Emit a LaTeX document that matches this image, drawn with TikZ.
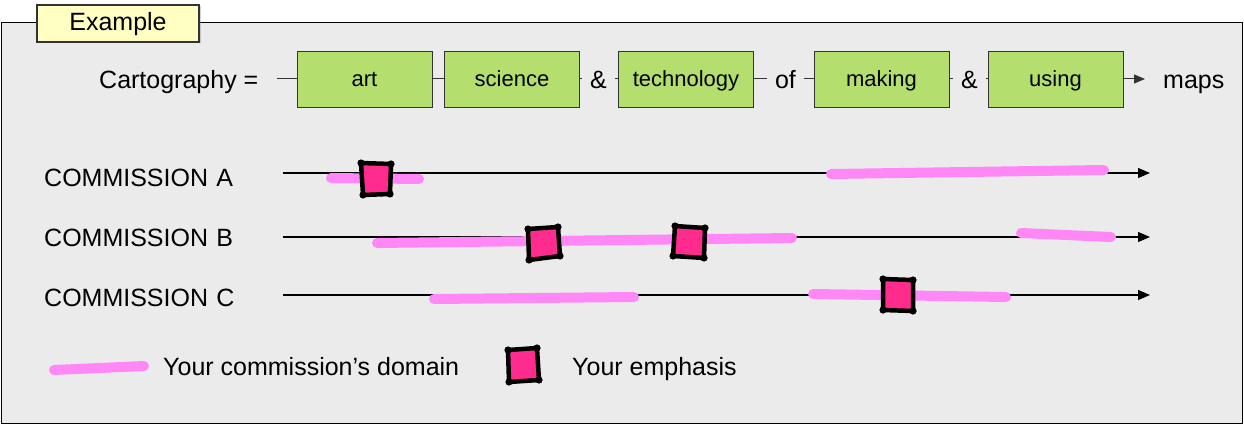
\documentclass[tikz,border=0pt]{standalone}
\usepackage{fontspec}
\setmainfont{Liberation Sans}
\usetikzlibrary{arrows.meta,shadows}

\definecolor{panelgray}{HTML}{EBEBEB}
\definecolor{tabyellow}{HTML}{FFFFC4}
\definecolor{boxgreen}{HTML}{B4DE6E}
\definecolor{reachpink}{HTML}{FF88F6}
\definecolor{emphpink}{HTML}{FF2C8E}

\tikzset{
  big/.style={font=\fontsize{25}{30}\selectfont, inner sep=0pt},
  part/.style={draw=black!80, line width=0.8pt, fill=boxgreen, minimum width=135pt,
    minimum height=56pt, inner sep=0pt, font=\fontsize{22}{26}\selectfont,
    text height=20pt, text depth=4pt},
  joint/.style={big, inner xsep=7.5pt},
  link/.style={line width=1pt, black!80},
  timeline/.style={line width=1.2pt, -{Triangle[length=12pt,width=10pt]}},
  reach/.style={reachpink, line width=10pt, line cap=round},
  sqline/.style={line width=4.5pt, line join=round},
  comm/.style={big, text width=239pt, align=left, anchor=base west},
}

% one hand drawn emphasis square: fill, frame, corner dots
\newcommand{\emphsq}[4]{%
  \fill[emphpink] #1 -- #2 -- #3 -- #4 -- cycle;
  \draw[sqline] #1 -- #2 -- #3 -- #4 -- cycle;
  \fill #1 circle (3.6pt) #2 circle (3.6pt) #3 circle (3.6pt) #4 circle (3.6pt);
}

\begin{document}
\begin{tikzpicture}[x=1pt,y=-1pt]
  \useasboundingbox (0,0) rectangle (1244,425);
  \draw[line width=1.2pt, fill=panelgray] (1.5,22.5) rectangle (1242.5,423.5);
  \node[big, draw=black!80, line width=1.4pt, fill=tabyellow,
    drop shadow={opacity=0.35, shadow xshift=1.5pt, shadow yshift=-1.5pt},
    minimum width=162pt, minimum height=37pt, text height=19pt, text depth=5pt]
    (tab) at (118,23.5) {Example};

  % top row
  \node[big, inner xsep=18pt, anchor=base west] (eq) at (81,89) {Cartography =};
  \node[part] (art) at (364.5,79) {art};
  \node[part] (science) at (512,79) {science};
  \node[joint, anchor=base] (amp1) at (598.5,89) {\&};
  \node[part] (technology) at (686,79) {technology};
  \node[joint, anchor=base] (wordof) at (785.5,89) {of};
  \node[part] (making) at (881.5,79) {making};
  \node[joint, anchor=base] (amp2) at (969.5,89) {\&};
  \node[part] (using) at (1055.5,79) {using};
  \node[big, inner xsep=18pt, anchor=base west] (maps) at (1145,89) {maps};

  \draw[link] (eq.east |- art.west) -- (art.west);
  \draw[link] (art.east) -- (science.west);
  \draw[link] (science.east) -- (amp1.west |- science.east);
  \draw[link] (amp1.east |- technology.west) -- (technology.west);
  \draw[link] (technology.east) -- (wordof.west |- technology.east);
  \draw[link] (wordof.east |- making.west) -- (making.west);
  \draw[link] (making.east) -- (amp2.west |- making.east);
  \draw[link] (amp2.east |- using.west) -- (using.west);
  \draw[link, -{Triangle[length=11pt,width=9pt]}] (using.east) -- (maps.west |- using.east);

  % commissions
  \node[comm] (comA) at (44,186) {COMMISSION A};
  \node[comm] (comB) at (44,246) {COMMISSION B};
  \node[comm] (comC) at (44,306) {COMMISSION C};
  \coordinate (tipA) at (1150,173);
  \coordinate (tipB) at (1150,237);
  \coordinate (tipC) at (1150,295);

  \draw[timeline] (comA.east |- tipA) -- (tipA);
  \draw[timeline] (comB.east |- tipB) -- (tipB);
  \draw[timeline] (comC.east |- tipC) -- (tipC);

  \draw[reach] (331,178) -- (419,179);
  \draw[reach] (831,174) -- (1104,170);
  \draw[reach] (377,243) -- (792,238);
  \draw[reach] (1021,233) -- (1111,237);
  \draw[reach] (434,299) -- (634,297);
  \draw[reach] (813,294) -- (1006,297);

  \emphsq{(361,163)}{(391,164)}{(390,194)}{(363,195)}
  \emphsq{(528,229)}{(558,227)}{(560,256)}{(529,260)}
  \emphsq{(675,226)}{(705,228)}{(704,258)}{(673,256)}
  \emphsq{(883,279)}{(913,280)}{(913,311)}{(883,310)}

  % legend
  \draw[reach] (54,370) -- (144,366);
  \node[big, anchor=base west] (legreach) at (163,375) {Your commission’s domain};
  \emphsq{(508,350)}{(537,348)}{(539,380)}{(509,382)}
  \node[big, anchor=base west] (legemph) at (572,375) {Your emphasis};
\end{tikzpicture}
\end{document}
